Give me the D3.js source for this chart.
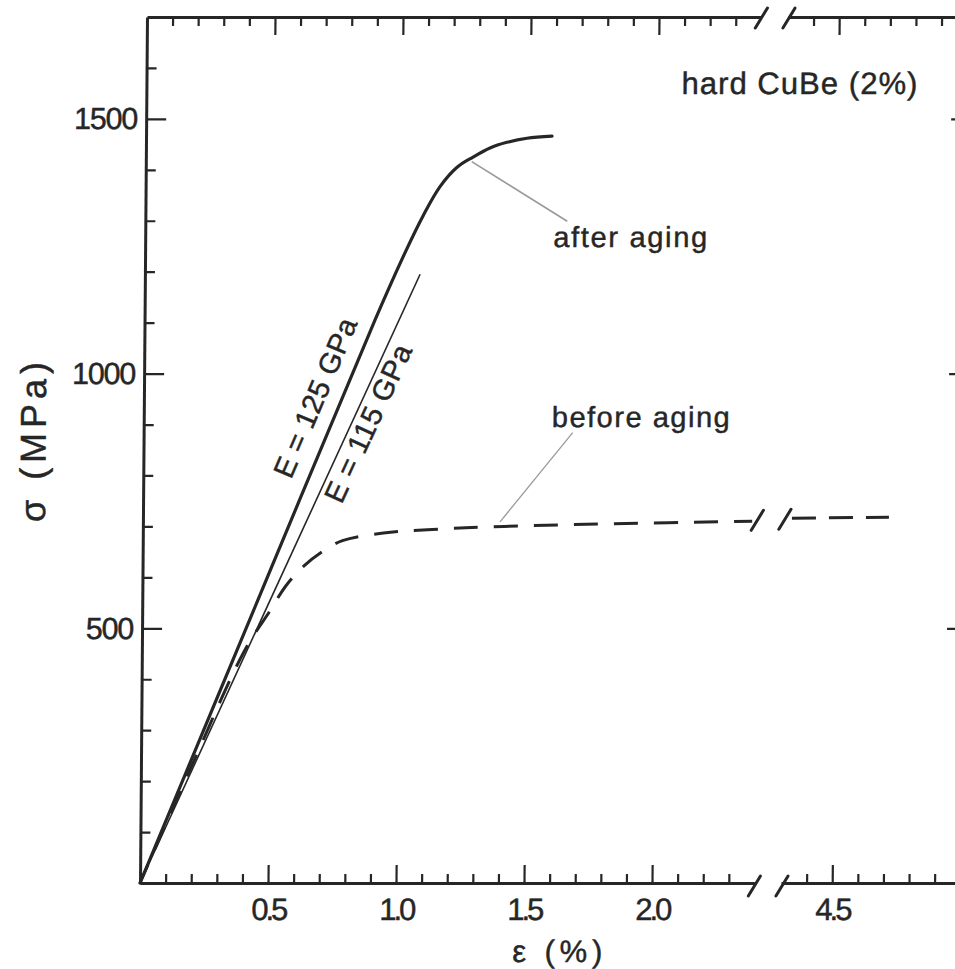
<!DOCTYPE html>
<html><head><meta charset="utf-8">
<script src="https://cdn.jsdelivr.net/npm/d3@7"></script>
<style>
html,body{margin:0;padding:0;background:#fff;}
svg text{font-family:"Liberation Sans",Arial,Helvetica,sans-serif;fill:#262626;stroke:#262626;stroke-width:0.45px;}
</style></head>
<body>
<svg id="chart" width="955" height="969"></svg>
<script>
// ---------------- data ----------------
const xLeftDomain = [0, 2.4];          // strain (%) before axis break
const xRightDomain = [4.3, 5.0];       // strain (%) after axis break
const yDomain = [0, 1700];             // stress (MPa)

const xMajorLeft = [0.5, 1.0, 1.5, 2.0];
const xMajorRight = [4.5];
const xTickLabels = ["0.5", "1.0", "1.5", "2.0", "4.5"];
const yMajor = [500, 1000, 1500];
const yTickLabels = ["500", "1000", "1500"];

// after aging (solid)
const afterEps   = [0, 0.5, 0.9, 1.016, 1.085, 1.150, 1.216, 1.278, 1.344, 1.410, 1.488, 1.586];
const afterSigma = [0, 615, 1105, 1238, 1310, 1367, 1405, 1425, 1443, 1454, 1462, 1466];
// before aging (dashed), left of break
const beforeEps   = [0, 0.2, 0.4, 0.5, 0.56, 0.625, 0.70, 0.78, 0.94, 1.13, 1.41, 1.80, 2.38];
const beforeSigma = [0, 232, 455, 535, 583, 620, 650, 672, 687, 694, 700, 705, 710];
// before aging (dashed), right of break
const beforeEps2   = [4.3, 4.71];
const beforeSigma2 = [716, 718];
// elastic line E = 115 GPa (thin)
const thinEps   = [0, 1.075];
const thinSigma = [0, 1195];

// ---------------- layout ----------------
const svg = d3.select("#chart");
const X0 = 140, PX_PER_PCT = 256;
const x1 = d3.scaleLinear().domain(xLeftDomain)
  .range([X0, X0 + (xLeftDomain[1]-xLeftDomain[0])*PX_PER_PCT]);
const x2start = 781;
const x2 = d3.scaleLinear().domain(xRightDomain)
  .range([x2start, x2start + (xRightDomain[1]-xRightDomain[0])*PX_PER_PCT]);
const y = d3.scaleLinear().domain(yDomain).range([883, 17]);
const xRightFrame = 965;
const ink = "#262626";

const y0 = y(0);
const g = svg.append("g")
  .attr("transform", `translate(0,${y0}) skewX(-0.463) translate(0,${-y0})`);

function range(a, b, step) { const r=[]; for (let v=a; v<=b+1e-9; v+=step) r.push(+v.toFixed(2)); return r; }
const xMinorLeft = range(0.1, 2.3, 0.1).filter(v => !xMajorLeft.some(m => Math.abs(m-v)<1e-6));
const xMinorRight = range(4.4, 4.9, 0.1).filter(v => !xMajorRight.some(m => Math.abs(m-v)<1e-6));
const yMinor = range(100, 1600, 100).filter(v => !yMajor.includes(v));

function styleAxis(sel) {
  sel.selectAll("path.domain").attr("stroke", ink).attr("stroke-width", 3);
  sel.selectAll(".tick line").attr("stroke", ink).attr("stroke-width", 2.2);
  sel.selectAll("text").attr("fill", ink).attr("font-family", '"Liberation Sans",Arial,sans-serif');
}

// bottom and top axes
const fmtMap = new Map(xMajorLeft.concat(xMajorRight).map((v,i)=>[v, xTickLabels[i]]));
[[x1, xMinorLeft, xMajorLeft], [x2, xMinorRight, xMajorRight]].forEach(([sc, minor, major]) => {
  const bMinor = g.append("g").attr("transform", `translate(0,${y0})`)
    .call(d3.axisBottom(sc).tickValues(minor).tickSize(-9).tickSizeOuter(0).tickFormat(""));
  styleAxis(bMinor);
  const bMajor = g.append("g").attr("transform", `translate(0,${y0})`)
    .call(d3.axisBottom(sc).tickValues(major).tickSize(-18).tickSizeOuter(0).tickPadding(15)
      .tickFormat(d => fmtMap.get(d)));
  styleAxis(bMajor);
  bMajor.select("path.domain").remove();
  bMajor.selectAll("text").attr("font-size", 31).attr("letter-spacing", -3);
  const tMinor = g.append("g").attr("transform", `translate(0,${y(yDomain[1])})`)
    .call(d3.axisTop(sc).tickValues(minor).tickSize(-9).tickSizeOuter(0).tickFormat(""));
  styleAxis(tMinor);
  const tMajor = g.append("g").attr("transform", `translate(0,${y(yDomain[1])})`)
    .call(d3.axisTop(sc).tickValues(major).tickSize(-18).tickSizeOuter(0).tickFormat(""));
  styleAxis(tMajor);
  tMajor.select("path.domain").remove();
});
[y0, y(yDomain[1])].forEach(yy => {
  g.append("line").attr("x1", x2.range()[1]).attr("x2", xRightFrame).attr("y1", yy).attr("y2", yy)
    .attr("stroke", ink).attr("stroke-width", 3);
});

// left axis
const lMinor = g.append("g").attr("transform", `translate(${X0},0)`)
  .call(d3.axisLeft(y).tickValues(yMinor).tickSize(-10).tickSizeOuter(0).tickFormat(""));
styleAxis(lMinor);
const lMajor = g.append("g").attr("transform", `translate(${X0},0)`)
  .call(d3.axisLeft(y).tickValues(yMajor).tickSize(-20).tickSizeOuter(0).tickPadding(9)
    .tickFormat((d,i) => yTickLabels[i]));
styleAxis(lMajor);
lMajor.select("path.domain").remove();
lMajor.selectAll("text").attr("font-size", 30.5).attr("letter-spacing", -1.2);

// right axis
const rMinor = g.append("g").attr("transform", `translate(${xRightFrame},0)`)
  .call(d3.axisRight(y).tickValues(yMinor).tickSize(-10).tickSizeOuter(0).tickFormat(""));
styleAxis(rMinor);
const rMajor = g.append("g").attr("transform", `translate(${xRightFrame},0)`)
  .call(d3.axisRight(y).tickValues(yMajor).tickSize(-20).tickSizeOuter(0).tickFormat(""));
styleAxis(rMajor);
rMajor.select("path.domain").remove();

// break marks
function slash(cx, cy) {
  g.append("line").attr("x1", cx-6).attr("y1", cy+10).attr("x2", cx+6).attr("y2", cy-10)
    .attr("stroke", ink).attr("stroke-width", 3).attr("stroke-linecap", "round");
}
const bx1 = x1(xLeftDomain[1]), bx2 = x2(xRightDomain[0]);
[y0 + 3, y(yDomain[1]) + 1].forEach(yy => { slash(bx1, yy); slash(bx2 + 1, yy); });

// curves
const lineL = d3.line().x(d => x1(d[0])).y(d => y(d[1])).curve(d3.curveCatmullRom.alpha(0.5));
const lineR = d3.line().x(d => x2(d[0])).y(d => y(d[1]));

g.append("path").datum(afterEps.map((e,i)=>[e, afterSigma[i]]))
  .attr("d", lineL).attr("fill", "none").attr("stroke", ink).attr("stroke-width", 3.2)
  .attr("stroke-linecap", "round");
g.append("path").datum(thinEps.map((e,i)=>[e, thinSigma[i]]))
  .attr("d", d3.line().x(d => x1(d[0])).y(d => y(d[1]))).attr("fill", "none")
  .attr("stroke", ink).attr("stroke-width", 1.6);
g.append("path").datum(beforeEps.map((e,i)=>[e, beforeSigma[i]]))
  .attr("d", lineL).attr("fill", "none").attr("stroke", ink).attr("stroke-width", 3)
  .attr("stroke-dasharray", "24,16").attr("stroke-dashoffset", 4);
g.append("path").datum(beforeEps2.map((e,i)=>[e, beforeSigma2[i]]))
  .attr("d", lineR).attr("fill", "none").attr("stroke", ink).attr("stroke-width", 3)
  .attr("stroke-dasharray", "24,13").attr("stroke-dashoffset", -8);
slash(x1(xLeftDomain[1]), y(beforeSigma[beforeSigma.length-1]) - 1);
slash(x2(xRightDomain[0]) + 1, y(beforeSigma2[0]) + 1);

// leader lines
const leaderColor = "#9a9a9a";
g.append("line").attr("x1", x1(1.273)).attr("y1", y(1416)).attr("x2", x1(1.648)).attr("y2", y(1299))
  .attr("stroke", leaderColor).attr("stroke-width", 1.6);
g.append("line").attr("x1", x1(1.676)).attr("y1", y(884)).attr("x2", x1(1.395)).attr("y2", y(709))
  .attr("stroke", leaderColor).attr("stroke-width", 1.3);

// labels
g.append("text").attr("x", x1(2.09)).attr("y", y(1548)).attr("font-size", 31)
  .attr("textLength", 236).attr("lengthAdjust", "spacing").text("hard CuBe (2%)");
g.append("text").attr("x", x1(1.594)).attr("y", y(1248)).attr("font-size", 29)
  .attr("textLength", 154).attr("lengthAdjust", "spacing").text("after  aging");
g.append("text").attr("x", x1(1.594)).attr("y", y(896)).attr("font-size", 29)
  .attr("textLength", 178).attr("lengthAdjust", "spacing").text("before  aging");

const angle = Math.atan2(y(1200) - y(0), x1(1.0) - x1(0)) * 180 / Math.PI;
g.append("text").attr("text-anchor", "middle").attr("font-size", 29)
  .attr("transform", `translate(${x1(0.705)},${y(945)}) rotate(${angle})`)
  .attr("textLength", 170).attr("lengthAdjust", "spacing").text("E = 125 GPa");
const angle2 = Math.atan2(y(1195) - y(0), x1(1.075) - x1(0)) * 180 / Math.PI;
g.append("text").attr("text-anchor", "middle").attr("font-size", 29)
  .attr("transform", `translate(${x1(0.912)},${y(894)}) rotate(${angle2})`)
  .attr("textLength", 170).attr("lengthAdjust", "spacing").text("E = 115 GPa");

// axis titles
g.append("text").attr("text-anchor", "middle").attr("font-size", 36)
  .attr("transform", `translate(42,442) rotate(-90)`)
  .attr("textLength", 160).attr("lengthAdjust", "spacing").text("σ  (MPa)");
g.append("text").attr("text-anchor", "middle").attr("font-size", 31)
  .attr("x", 558).attr("y", 962)
  .attr("textLength", 90).attr("lengthAdjust", "spacing").text("ε  (%)");
</script>
</body></html>
